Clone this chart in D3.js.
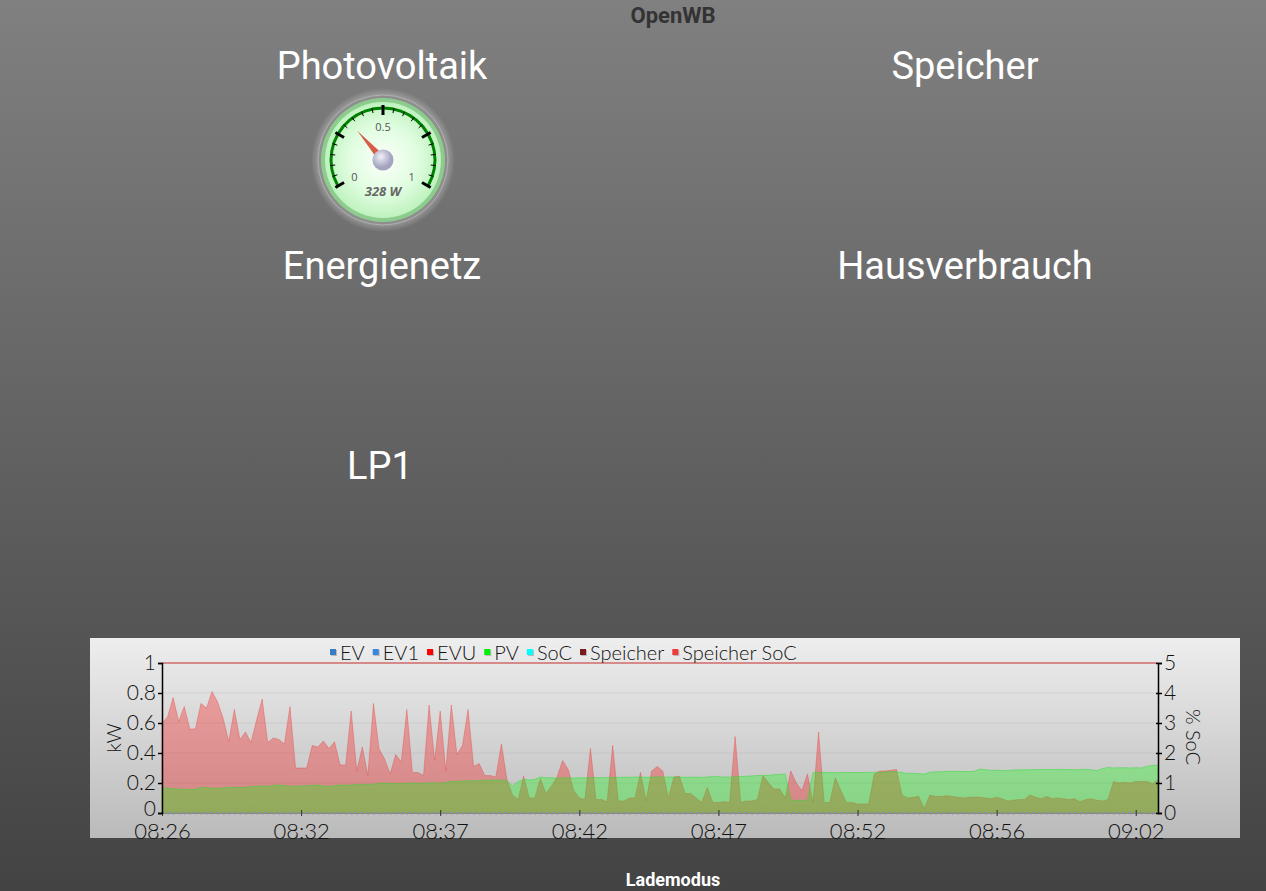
<!DOCTYPE html>
<html>
<head>
<meta charset="utf-8">
<script src="https://cdn.jsdelivr.net/npm/d3@7"></script>
<style>
  body { margin: 0; overflow: hidden; }
  svg { display: block; }
</style>
</head>
<body>
<div id="chart"></div>
<script>
// values (kW, one point every ~12 s)
const evuValues = [
  0.60,0.64,0.77,0.61,0.71,0.56,0.56,0.73,0.70,0.81,
  0.74,0.63,0.475,0.69,0.49,0.54,0.47,0.62,0.76,0.47,
  0.50,0.49,0.46,0.71,0.30,0.30,0.30,0.45,0.44,0.48,
  0.43,0.475,0.32,0.32,0.68,0.28,0.44,0.25,0.73,0.43,
  0.36,0.26,0.39,0.34,0.69,0.27,0.27,0.25,0.72,0.35,
  0.68,0.28,0.72,0.39,0.45,0.69,0.31,0.33,0.25,0.25,
  0.24,0.46,0.22,0.12,0.09,0.245,0.10,0.10,0.23,0.13,
  0.18,0.24,0.35,0.29,0.15,0.10,0.09,0.43,0.09,0.09,
  0.075,0.45,0.08,0.08,0.10,0.10,0.27,0.08,0.28,0.31,
  0.28,0.10,0.24,0.245,0.13,0.13,0.10,0.07,0.17,0.07,
  0.07,0.075,0.07,0.51,0.07,0.08,0.08,0.09,0.25,0.20,
  0.16,0.16,0.10,0.28,0.20,0.15,0.26,0.07,0.54,0.07,
  0.07,0.235,0.15,0.07,0.07,0.06,0.06,0.06,0.26,0.28,
  0.28,0.285,0.29,0.12,0.10,0.105,0.11,0.03,0.12,0.11,
  0.11,0.115,0.11,0.105,0.10,0.105,0.105,0.105,0.10,0.095,
  0.105,0.095,0.08,0.085,0.09,0.09,0.12,0.105,0.095,0.11,
  0.095,0.10,0.095,0.09,0.095,0.075,0.09,0.095,0.085,0.08,
  0.09,0.21,0.20,0.205,0.20,0.21,0.21,0.21,0.195,0.22
];
const pvValues = [
  0.165,0.168,0.162,0.16,0.158,0.157,0.158,0.17,0.17,0.165,
  0.165,0.168,0.17,0.172,0.17,0.172,0.175,0.178,0.18,0.177,
  0.185,0.187,0.183,0.178,0.18,0.18,0.182,0.185,0.186,0.18,
  0.178,0.183,0.186,0.186,0.186,0.19,0.193,0.19,0.193,0.198,
  0.2,0.196,0.197,0.197,0.198,0.2,0.198,0.199,0.2,0.202,
  0.198,0.205,0.21,0.212,0.213,0.215,0.215,0.217,0.218,0.22,
  0.22,0.22,0.215,0.18,0.21,0.225,0.22,0.225,0.24,0.235,
  0.235,0.232,0.235,0.235,0.233,0.235,0.235,0.236,0.236,0.235,
  0.237,0.237,0.238,0.238,0.238,0.24,0.24,0.238,0.24,0.242,
  0.24,0.24,0.24,0.24,0.238,0.238,0.24,0.237,0.24,0.243,
  0.242,0.24,0.24,0.242,0.243,0.245,0.247,0.25,0.25,0.252,
  0.255,0.258,0.26,0.085,0.085,0.085,0.085,0.27,0.272,0.27,
  0.27,0.268,0.27,0.27,0.27,0.27,0.27,0.27,0.272,0.272,
  0.274,0.275,0.275,0.27,0.264,0.265,0.262,0.26,0.272,0.274,
  0.275,0.277,0.278,0.278,0.276,0.276,0.278,0.293,0.288,0.285,
  0.285,0.283,0.283,0.287,0.288,0.288,0.288,0.29,0.29,0.29,
  0.29,0.292,0.29,0.29,0.288,0.29,0.292,0.288,0.283,0.295,
  0.304,0.3,0.302,0.302,0.3,0.302,0.3,0.31,0.318,0.318
];
const timeLabels = ["08:26","08:32","08:37","08:42","08:47","08:52","08:56","09:02"];
const labelEvery = 25;
const evValue = 0;          // EV / EV1 lie on the zero line
const speicherSocValue = 100; // % (beyond the right axis, drawn at its top)

const legendNames  = ["EV","EV1","EVU","PV","SoC","Speicher","Speicher SoC"];
const legendColors = ["#3a7cc4","#3b86df","#ff0000","#00ee00","#00ffff","#7a1c1c","#ee3b3b"];

const gaugeValue = 0.328;   // kW
const gaugeLabels = [0, 0.5, 1];

const headers = ["Photovoltaik","Speicher","Energienetz","Hausverbrauch","LP1"];

const W = 1266, H = 891;
const chartFont = "Lato, 'DejaVu Sans', sans-serif";

const svg = d3.select("#chart").append("svg")
    .attr("width", W).attr("height", H);

const defs = svg.append("defs");
const bg = defs.append("linearGradient").attr("id","pagebg")
    .attr("x1",0).attr("y1",0).attr("x2",0).attr("y2",1);
bg.append("stop").attr("offset","0%").attr("stop-color","#808080");
bg.append("stop").attr("offset","100%").attr("stop-color","#434343");

const pb = defs.append("linearGradient").attr("id","panelbg")
    .attr("x1",0).attr("y1",0).attr("x2",0).attr("y2",1);
pb.append("stop").attr("offset","0%").attr("stop-color","#eeeeee");
pb.append("stop").attr("offset","100%").attr("stop-color","#bababa");

svg.append("rect").attr("width",W).attr("height",H).attr("fill","url(#pagebg)");

// page texts
svg.append("text").attr("x",673).attr("y",23).attr("text-anchor","middle")
    .style("font-family","Roboto, sans-serif").style("font-weight","bold").style("font-size","22px")
    .attr("fill","#333").text("OpenWB");
svg.append("text").attr("x",673).attr("y",886).attr("text-anchor","middle")
    .style("font-family","Roboto, sans-serif").style("font-weight","bold").style("font-size","18px")
    .attr("fill","#fff").text("Lademodus");

const headerPos = [[382,79],[965,79],[382,279],[965,279],[380,479]];
svg.selectAll("text.header").data(headers).enter().append("text")
    .attr("class","header")
    .attr("x",(d,i) => headerPos[i][0]).attr("y",(d,i) => headerPos[i][1])
    .attr("text-anchor","middle")
    .style("font-family","Roboto, sans-serif").style("font-size","38px")
    .attr("fill","#fff").text(d => d);

// ---------- gauge ----------
const gx = 383, gy = 160;
const g = svg.append("g").attr("transform",`translate(${gx},${gy})`);
const gAngle = d3.scaleLinear().domain([0,1]).range([-120,120]);
const rad = a => a * Math.PI / 180;

const glow = defs.append("radialGradient").attr("id","glow");
glow.append("stop").attr("offset","86%").attr("stop-color","#fff").attr("stop-opacity",0.35);
glow.append("stop").attr("offset","100%").attr("stop-color","#fff").attr("stop-opacity",0);
const face = defs.append("radialGradient").attr("id","face");
face.append("stop").attr("offset","0%").attr("stop-color","#fbfffb");
face.append("stop").attr("offset","60%").attr("stop-color","#e0fde0");
face.append("stop").attr("offset","100%").attr("stop-color","#bff2bf");
const hub = defs.append("radialGradient").attr("id","hub").attr("cx","40%").attr("cy","35%");
hub.append("stop").attr("offset","0%").attr("stop-color","#f0f0fa");
hub.append("stop").attr("offset","100%").attr("stop-color","#a4a4c0");

g.append("circle").attr("r",72).attr("fill","url(#glow)");
g.append("circle").attr("r",65).attr("fill","#8e8e8e").attr("stroke","#b0b0b0").attr("stroke-width",1);
g.append("circle").attr("r",62).attr("fill","#8ccc8c");
g.append("circle").attr("r",58).attr("fill","url(#face)");

g.append("path")
    .attr("d", d3.arc().innerRadius(50.5).outerRadius(53.5)
        .startAngle(rad(gAngle(0))).endAngle(rad(gAngle(1)))())
    .attr("fill","#008000");

const minorTicks = d3.range(0, 1.0001, 0.05);
g.selectAll("line.minor").data(minorTicks).enter().append("line")
    .attr("x1", d => 48 * Math.sin(rad(gAngle(d))))
    .attr("y1", d => -48 * Math.cos(rad(gAngle(d))))
    .attr("x2", d => 53 * Math.sin(rad(gAngle(d))))
    .attr("y2", d => -53 * Math.cos(rad(gAngle(d))))
    .attr("stroke","#000").attr("stroke-width",1);
g.selectAll("line.major").data([0,0.25,0.5,0.75,1]).enter().append("line")
    .attr("x1", d => 45 * Math.sin(rad(gAngle(d))))
    .attr("y1", d => -45 * Math.cos(rad(gAngle(d))))
    .attr("x2", d => 55 * Math.sin(rad(gAngle(d))))
    .attr("y2", d => -55 * Math.cos(rad(gAngle(d))))
    .attr("stroke","#000").attr("stroke-width",3);
g.selectAll("text.glabel").data(gaugeLabels).enter().append("text")
    .attr("x", d => 33 * Math.sin(rad(gAngle(d))))
    .attr("y", d => -33 * Math.cos(rad(gAngle(d))) + 4)
    .attr("text-anchor","middle")
    .style("font-family","'Open Sans', sans-serif").style("font-size","11px")
    .attr("fill","#555").text(d => d);

const na = rad(gAngle(gaugeValue));
const nLen = 39, nHalf = 4;
const nx = Math.sin(na), ny = -Math.cos(na);
g.append("path")
    .attr("d", `M${nx*nLen},${ny*nLen} L${-ny*nHalf},${nx*nHalf} L${ny*nHalf},${-nx*nHalf} Z`)
    .attr("fill","#d85c46");
g.append("circle").attr("r",10.5).attr("fill","url(#hub)");
g.append("text").attr("x",0).attr("y",36).attr("text-anchor","middle")
    .style("font-family","'Open Sans', sans-serif").style("font-size","13px")
    .style("font-style","italic").style("font-weight","bold")
    .attr("fill","#666").text(Math.round(gaugeValue * 1000) + " W");

// ---------- chart ----------
const P = { X:90, Y:638, W:1150, H:200 };
const plot = { left:162, right:1158, top:663, bottom:813 };

svg.append("rect").attr("x",P.X).attr("y",P.Y).attr("width",P.W).attr("height",P.H)
    .attr("fill","url(#panelbg)");

const idx = d3.range(evuValues.length);
const x = d3.scaleLinear().domain([0, evuValues.length - 1]).range([plot.left, plot.right]);
const y = d3.scaleLinear().domain([0, 1]).range([plot.bottom, plot.top]);
const y2 = d3.scaleLinear().domain([0, 5]).range([plot.bottom, plot.top]).clamp(true);

// grid
svg.append("g").selectAll("line").data(y.ticks(5).slice(1)).enter().append("line")
    .attr("x1",plot.left).attr("x2",plot.right)
    .attr("y1",d => y(d)).attr("y2",d => y(d))
    .attr("stroke","#000").attr("stroke-opacity",0.06);

const area = vals => d3.area()
    .x((d,i) => x(i)).y0(y(0)).y1(d => y(d))(vals);

svg.append("path").attr("d", area(evuValues))
    .attr("fill","rgba(255,0,0,0.3)").attr("stroke","rgba(230,60,60,0.35)").attr("stroke-width",1);
svg.append("path").attr("d", area(pvValues))
    .attr("fill","rgba(0,255,0,0.3)").attr("stroke","rgba(40,220,40,0.45)").attr("stroke-width",1);

// zero lines for EV / EV1, Speicher SoC at the top
svg.append("line").attr("x1",plot.left).attr("x2",plot.right)
    .attr("y1",y(evValue)-0.5).attr("y2",y(evValue)-0.5)
    .attr("stroke","#8a8fb0").attr("stroke-width",1).attr("stroke-dasharray","3,3");
svg.append("line").attr("x1",plot.left).attr("x2",plot.right)
    .attr("y1",y2(speicherSocValue)).attr("y2",y2(speicherSocValue))
    .attr("stroke","#cc3333").attr("stroke-width",1);

// x axis
const xAxisGroup = svg.append("g").attr("transform",`translate(0,${plot.bottom})`);
xAxisGroup.call(d3.axisBottom(x).tickValues(idx).tickSize(2).tickFormat(""));
xAxisGroup.select(".domain").attr("stroke","#888");
xAxisGroup.selectAll(".tick line").attr("stroke","#999");

const majorIdx = timeLabels.map((t,i) => i * labelEvery);
const xMajor = svg.append("g").attr("transform",`translate(0,${plot.bottom})`);
xMajor.call(d3.axisBottom(x).tickValues(majorIdx).tickSize(3)
    .tickFormat((d,i) => timeLabels[i]));
xMajor.select(".domain").remove();
xMajor.selectAll(".tick line").attr("y1",-3).attr("stroke","#333");
xMajor.selectAll(".tick text").attr("y",10).attr("dy","0.71em")
    .style("font-family",chartFont).style("font-weight","300").style("font-size","22px")
    .attr("fill","#111");

// y axes
const yAxisGroup = svg.append("g").attr("transform",`translate(${plot.left},0)`);
yAxisGroup.call(d3.axisLeft(y).ticks(5).tickSize(4).tickPadding(2).tickFormat(d3.format("~g")));
const y2AxisGroup = svg.append("g").attr("transform",`translate(${plot.right},0)`);
y2AxisGroup.call(d3.axisRight(y2).ticks(5).tickSize(4).tickPadding(2));
y2AxisGroup.selectAll(".tick line").attr("x1",-2);
[yAxisGroup, y2AxisGroup].forEach(ax => {
  ax.select(".domain").attr("stroke","#000").attr("stroke-width",1.5);
  ax.selectAll(".tick line").attr("stroke","#000").attr("stroke-width",1.5);
  ax.selectAll(".tick text").style("font-family",chartFont).style("font-weight","300")
    .style("font-size","21px").attr("fill","#111");
});
// the lowest left label sits just above the first time label
yAxisGroup.selectAll(".tick text").filter(d => d === 0).attr("dy","0.1em");

svg.append("text").attr("transform","translate(121,738) rotate(-90)")
    .attr("text-anchor","middle")
    .style("font-family",chartFont).style("font-weight","300").style("font-size","20px")
    .attr("fill","#111").text("kW");
svg.append("text").attr("transform","translate(1186,737) rotate(90)")
    .attr("text-anchor","middle")
    .style("font-family",chartFont).style("font-weight","300").style("font-size","20px")
    .attr("fill","#111").text("% SoC");

// legend
const legend = svg.append("g").attr("class","legend");
let lx = 330;
legendNames.forEach((name, i) => {
  legend.append("rect").attr("x",lx+1).attr("y",650).attr("width",6).attr("height",6)
      .attr("fill","#999").attr("opacity",0.6);
  legend.append("rect").attr("x",lx).attr("y",649).attr("width",6).attr("height",6)
      .attr("fill",legendColors[i]);
  const t = legend.append("text").attr("x",lx+10).attr("y",660)
      .style("font-family",chartFont).style("font-weight","300").style("font-size","20px")
      .attr("fill","#111").text(name);
  lx += 10 + t.node().getComputedTextLength() + 8;
});
</script>
</body>
</html>
